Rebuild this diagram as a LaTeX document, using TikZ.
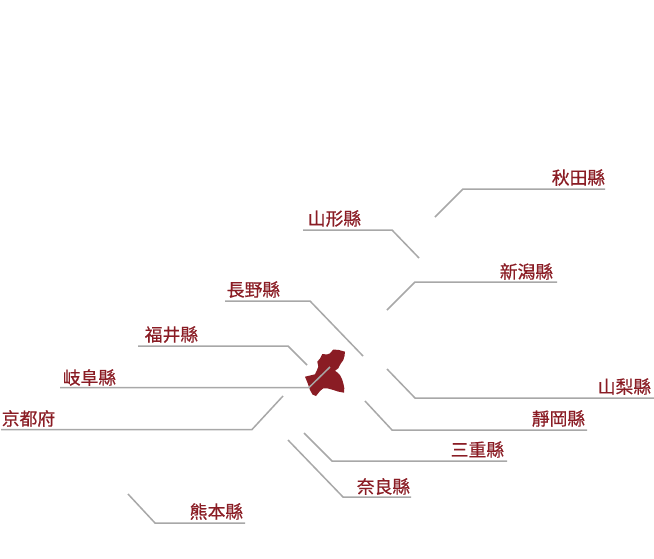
\documentclass[tikz,border=0pt]{standalone}
\usepackage{fontspec}
\newfontfamily\cjk[FakeBold=0.5]{Noto Sans CJK TC}
\definecolor{prefred}{HTML}{8A1C24}
\definecolor{leader}{HTML}{A8A8A8}
\tikzset{
  preflabel/.style={text=prefred,font=\cjk\fontsize{17.8}{18}\selectfont,inner sep=0pt,anchor=center},
  leaderline/.style={draw=leader,line width=1.5pt,line join=miter},
  prefmap/.style={fill=prefred,draw=none}
}
\begin{document}
\begin{tikzpicture}[x=1pt,y=-1pt]
\useasboundingbox (0,0) rectangle (654,558);
\fill[white] (0,0) rectangle (654,558);
% map
\path[prefmap] (322.3,354) -- (327,354.5) -- (330,353.3) -- (333.3,349.5) -- (339,350) -- (345,351.7) -- (344.5,356) -- (343.3,360) -- (340.5,364) -- (338.3,368.3) -- (335,370.7) -- (338,373) -- (340,375) -- (342,379) -- (343.3,383.3) -- (344.3,388) -- (344,392.7) -- (338,391.5) -- (333.3,390) -- (328,388.5) -- (323.3,388.3) -- (320,391) -- (316,396) -- (312.5,394.5) -- (310,390) -- (308,384) -- (305,376.7) -- (310,375.5) -- (315,374.3) -- (317,370) -- (318.3,366.7) -- (317.3,361.7) -- (320,358.5) -- cycle;
% labels
\node[preflabel] (akita) at (578.5,177.5) {秋田縣};
\node[preflabel] (yamagata) at (334.5,218.5) {山形縣};
\node[preflabel] (niigata) at (526.5,271.5) {新潟縣};
\node[preflabel] (nagano) at (253.5,289.5) {長野縣};
\node[preflabel] (fukui) at (171.5,334.5) {福井縣};
\node[preflabel] (gifu) at (89.5,377.5) {岐阜縣};
\node[preflabel] (kyoto) at (28.5,418.5) {京都府};
\node[preflabel] (yamanashi) at (624.5,386.5) {山梨縣};
\node[preflabel] (shizuoka) at (558.5,418.5) {靜岡縣};
\node[preflabel] (mie) at (477.5,449.5) {三重縣};
\node[preflabel] (nara) at (383.5,486.5) {奈良縣};
\node[preflabel] (kumamoto) at (216.5,511.5) {熊本縣};
% leaders
\draw[leaderline] (605,189) -- (463,189) -- (435,217);
\draw[leaderline] (303,230) -- (392,230) -- (419,258);
\draw[leaderline] (557,282) -- (415,282) -- (387,310);
\draw[leaderline] (225,301) -- (310,301) -- (363,356);
\draw[leaderline] (138,346) -- (288,346) -- (307,365);
\draw[leaderline] (60,387.5) -- (309,387.5) -- (330,367);
\draw[leaderline] (1,429.5) -- (252,429.5) -- (283,396);
\draw[leaderline] (654,398) -- (415,398) -- (387,369);
\draw[leaderline] (587,430) -- (392,430) -- (365,401);
\draw[leaderline] (507,461) -- (332,461) -- (304,433);
\draw[leaderline] (411,497) -- (343,497) -- (288,440);
\draw[leaderline] (245,523) -- (155,523) -- (128,494);
\end{tikzpicture}
\end{document}
